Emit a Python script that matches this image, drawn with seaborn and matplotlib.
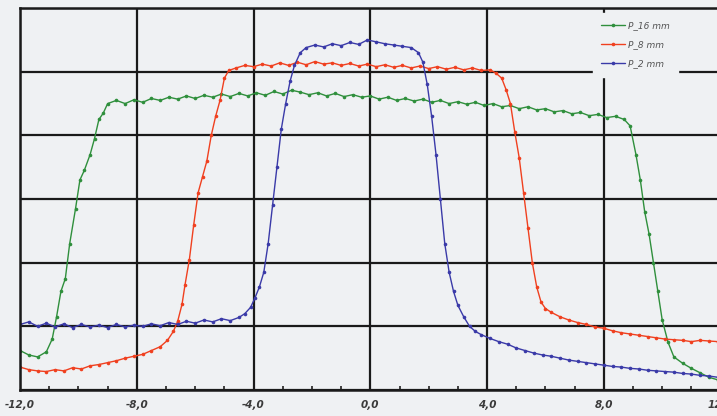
import numpy as np
import pandas as pd
import seaborn as sns
import matplotlib.pyplot as plt
from matplotlib.ticker import MultipleLocator, FuncFormatter

# beam profile data (position in mm, relative dose)
x_16 = [-12.0, -11.7, -11.4, -11.1, -10.9, -10.75, -10.6, -10.45, -10.3, -10.1, -9.95, -9.8, -9.6, -9.45,
        -9.3, -9.15, -9.0, -8.7, -8.4, -8.1, -7.8, -7.5, -7.2, -6.9, -6.6, -6.3, -6.0, -5.7, -5.4, -5.1,
        -4.8, -4.5, -4.2, -3.9, -3.6, -3.3, -3.0, -2.7, -2.4, -2.1, -1.8, -1.5, -1.2, -0.9, -0.6, -0.3,
        0.0, 0.3, 0.6, 0.9, 1.2, 1.5, 1.8, 2.1, 2.4, 2.7, 3.0, 3.3, 3.6, 3.9, 4.2, 4.5, 4.8, 5.1, 5.4,
        5.7, 6.0, 6.3, 6.6, 6.9, 7.2, 7.5, 7.8, 8.1, 8.4, 8.7, 8.9, 9.1, 9.25, 9.4, 9.55, 9.7, 9.85,
        10.0, 10.2, 10.4, 10.7, 11.0, 11.3, 11.6, 11.9]
y_16 = [0.62, 0.55, 0.52, 0.60, 0.80, 1.15, 1.55, 1.75, 2.3, 2.85, 3.3, 3.45, 3.7, 3.95,
        4.25, 4.35, 4.5, 4.55, 4.5, 4.56, 4.52, 4.58, 4.55, 4.6, 4.57, 4.62, 4.58, 4.63, 4.6, 4.65,
        4.61, 4.66, 4.62, 4.67, 4.63, 4.69, 4.65, 4.71, 4.68, 4.64, 4.67, 4.62, 4.66, 4.61, 4.64, 4.6,
        4.62, 4.57, 4.6, 4.55, 4.58, 4.54, 4.57, 4.52, 4.55, 4.5, 4.53, 4.49, 4.52, 4.47, 4.5, 4.45,
        4.47, 4.42, 4.45, 4.4, 4.42, 4.37, 4.39, 4.34, 4.36, 4.31, 4.33, 4.28, 4.3, 4.25, 4.15, 3.7,
        3.3, 2.8, 2.45, 2.0, 1.55, 1.1, 0.75, 0.52, 0.42, 0.34, 0.27, 0.2, 0.16]

x_8 = [-12.0, -11.7, -11.4, -11.1, -10.8, -10.5, -10.2, -9.9, -9.6, -9.3, -9.0, -8.7, -8.4, -8.1,
       -7.8, -7.5, -7.2, -6.95, -6.75, -6.6, -6.45, -6.35, -6.2, -6.05, -5.9, -5.75, -5.6, -5.45,
       -5.3, -5.15, -5.0, -4.85, -4.6, -4.3, -4.0, -3.7, -3.4, -3.1, -2.8, -2.5, -2.2, -1.9, -1.6,
       -1.3, -1.0, -0.7, -0.4, -0.1, 0.2, 0.5, 0.8, 1.1, 1.4, 1.7, 2.0, 2.3, 2.6, 2.9, 3.2, 3.5,
       3.8, 4.1, 4.3, 4.5, 4.65, 4.8, 4.95, 5.1, 5.25, 5.4, 5.55, 5.7, 5.85, 6.0, 6.2, 6.5, 6.8,
       7.1, 7.4, 7.7, 8.0, 8.3, 8.6, 8.9, 9.2, 9.5, 9.8, 10.1, 10.4, 10.7, 11.0, 11.3, 11.6, 11.9]
y_8 = [0.36, 0.32, 0.30, 0.29, 0.32, 0.30, 0.35, 0.33, 0.38, 0.40, 0.43, 0.46, 0.50, 0.53,
       0.56, 0.62, 0.68, 0.78, 0.92, 1.08, 1.35, 1.65, 2.05, 2.6, 3.1, 3.35, 3.6, 4.0,
       4.3, 4.55, 4.9, 5.02, 5.06, 5.1, 5.08, 5.12, 5.09, 5.14, 5.1, 5.15, 5.11, 5.16, 5.12,
       5.14, 5.1, 5.13, 5.09, 5.12, 5.08, 5.11, 5.07, 5.1, 5.06, 5.09, 5.05, 5.08, 5.04, 5.07, 5.03, 5.06,
       5.02, 5.03, 4.98, 4.9, 4.72, 4.5, 4.05, 3.65, 3.1, 2.55, 2.0, 1.62, 1.38, 1.28, 1.22, 1.15, 1.1,
       1.06, 1.03, 0.99, 0.97, 0.93, 0.9, 0.88, 0.86, 0.84, 0.82, 0.8, 0.79, 0.78, 0.76, 0.78, 0.77, 0.76]

x_2 = [-12.0, -11.7, -11.4, -11.1, -10.8, -10.5, -10.2, -9.9, -9.6, -9.3, -9.0, -8.7, -8.4, -8.1,
       -7.8, -7.5, -7.2, -6.9, -6.6, -6.3, -6.0, -5.7, -5.4, -5.1, -4.8, -4.5, -4.3, -4.1, -3.95,
       -3.8, -3.65, -3.5, -3.35, -3.2, -3.05, -2.9, -2.75, -2.6, -2.4, -2.2, -1.9, -1.6, -1.3, -1.0,
       -0.7, -0.4, -0.1, 0.2, 0.5, 0.8, 1.1, 1.4, 1.65, 1.8, 1.95, 2.1, 2.25, 2.4, 2.55, 2.7, 2.85,
       3.0, 3.2, 3.4, 3.6, 3.8, 4.1, 4.4, 4.7, 5.0, 5.3, 5.6, 5.9, 6.2, 6.5, 6.8, 7.1, 7.4, 7.7,
       8.0, 8.3, 8.6, 8.9, 9.2, 9.5, 9.8, 10.1, 10.4, 10.7, 11.0, 11.3, 11.6, 11.9]
y_2 = [1.03, 1.07, 1.0, 1.05, 0.99, 1.04, 0.98, 1.03, 0.99, 1.02, 0.98, 1.03, 0.99, 1.02,
       1.0, 1.04, 1.01, 1.06, 1.03, 1.08, 1.05, 1.1, 1.07, 1.12, 1.09, 1.14, 1.2, 1.3, 1.45,
       1.62, 1.85, 2.3, 2.9, 3.5, 4.1, 4.5, 4.85, 5.1, 5.3, 5.38, 5.42, 5.39, 5.44, 5.41,
       5.46, 5.43, 5.5, 5.47, 5.44, 5.42, 5.4, 5.38, 5.3, 5.15, 4.8, 4.3, 3.7, 3.0, 2.3, 1.85, 1.55,
       1.33, 1.15, 1.0, 0.92, 0.87, 0.81, 0.76, 0.72, 0.66, 0.62, 0.58, 0.55, 0.53, 0.5, 0.47, 0.45, 0.43, 0.41,
       0.39, 0.37, 0.36, 0.34, 0.33, 0.31, 0.3, 0.29, 0.28, 0.26, 0.25, 0.23, 0.22, 0.2]

labels = ["P_16 mm", "P_8 mm", "P_2 mm"]
colours = ["#2f8f3c", "#f0401f", "#3a3aa8"]

df = pd.concat([
    pd.DataFrame({"pos": x_16, "dose": y_16, "field": labels[0]}),
    pd.DataFrame({"pos": x_8, "dose": y_8, "field": labels[1]}),
    pd.DataFrame({"pos": x_2, "dose": y_2, "field": labels[2]}),
])

sns.set_style("white")
bg = "#eff1f3"

fig = plt.figure(figsize=(7.17, 4.16), dpi=100, facecolor=bg)
ax = fig.add_axes([0.028, 0.0625, 0.977, 0.918])
ax.set_facecolor(bg)

sns.lineplot(data=df, x="pos", y="dose", hue="field", palette=colours, sort=False,
             marker="o", markersize=2.6, markeredgewidth=0, linewidth=1.0, ax=ax)

ax.set_xlim(-12, 12)
ax.set_ylim(0, 6)
ax.xaxis.set_major_locator(MultipleLocator(4))
ax.xaxis.set_minor_locator(MultipleLocator(1))
ax.yaxis.set_major_locator(MultipleLocator(1))
ax.xaxis.set_major_formatter(FuncFormatter(lambda v, p: f"{v:.1f}".replace(".", ",")))
ax.set_yticklabels([])
ax.grid(True, color="#1a1a1a", linewidth=1.6)
ax.set_axisbelow(True)

ax.tick_params(axis="x", which="major", direction="inout", length=8, width=1.4, colors="#222222",
               labelsize=7.5, pad=3)
ax.tick_params(axis="x", which="minor", direction="in", length=3, width=1.2, colors="#222222", bottom=True)
ax.tick_params(axis="y", length=0)
for lab in ax.get_xticklabels():
    lab.set_fontstyle("italic")
    lab.set_fontweight("bold")
    lab.set_color("#3a3a3a")

for side in ["left", "top", "bottom"]:
    ax.spines[side].set_color("#1a1a1a")
    ax.spines[side].set_linewidth(1.8)
ax.spines["right"].set_visible(False)

ax.set_xlabel("")
ax.set_ylabel("")

# legend box hides the grid behind it, like the original
leg = ax.legend(loc="upper right", bbox_to_anchor=(0.945, 0.998), frameon=True, fontsize=6.5,
                handlelength=2.6, handletextpad=0.3, labelspacing=1.1, borderpad=0.9)
leg.get_frame().set_facecolor(bg)
leg.get_frame().set_edgecolor(bg)
leg.get_frame().set_alpha(1)
leg.get_frame().set_boxstyle("square", pad=0)
for t in leg.get_texts():
    t.set_fontstyle("italic")
    t.set_color("#555555")

plt.savefig("out.png", dpi=100, facecolor=bg)
